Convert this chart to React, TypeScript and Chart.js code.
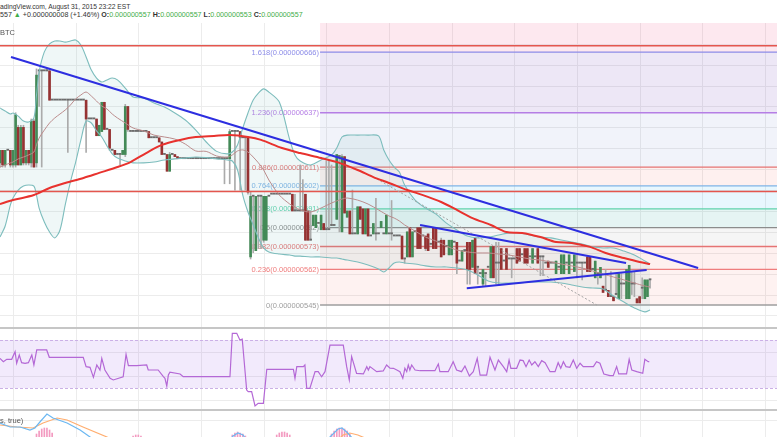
import React, { useEffect, useRef } from "react";
import { Chart, registerables } from "chart.js";

Chart.register(...registerables);

// ---------------- data (prices in units of 1e-9 BTC) ----------------
const firstBar = -5;

const opens = [
  613,619,612,619,619,612,612,630,612,630,
  613,619,613,633,613,657,657,657,657,657,
  643,643,643,643,643,643,643,643,643,643,
  643,643,643,643,634,634,634,634,626,628,
  642,629,629,619,619,617,617,617,617,640,
  628,628,628,628,628,628,628,628,625,625,
  625,625,623,617,617,609,617,617,616,615,
  615,615,615,615,615,615,615,615,615,615,
  615,615,615,615,615,615,615,615,615,628,
  628,628,628,625,625,625,568,597,571,597,
  597,576,576,597,598,598,598,598,598,598,
  598,598,598,590,590,590,590,598,590,576,
  583,582,584,581,584,581,581,583,583,586,
  616,580,616,587,590,579,579,579,592,591,
  579,591,578,579,579,579,582,579,579,579,
  579,578,578,578,578,567,568,582,568,580,
  582,582,578,578,579,574,582,582,575,576,
  576,573,569,569,575,575,566,566,571,575,
  575,563,577,563,560,555,560,563,558,573,
  565,565,572,566,572,567,567,567,572,572,
  569,572,572,568,565,568,572,568,568,565,
  566,565,565,560,563,560,560,565,560,565,
  561,565,565,565,565,568,568,562,558,560,
  558,554,552,552,549,549,550,548,555,555,
  548,548,555,555,548,549,553,548,549,557,
];
const highs = [
  619,619,619,619,619,619,637,631,631,631,
  619,619,634,634,658,657,657,657,658,658,
  643,643,643,643,643,643,643,643,643,643,
  643,643,643,643,634,634,634,634,631,642,
  642,629,629,619,619,617,617,619,641,640,
  628,628,628,628,628,628,628,628,625,625,
  625,625,623,617,617,618,617,617,616,615,
  615,615,615,615,615,615,615,615,615,615,
  615,615,615,615,615,615,615,615,629,628,
  628,628,628,625,625,625,599,597,597,597,
  597,597,597,597,598,598,598,598,598,598,
  598,598,598,598,590,612,605,598,590,590,
  588,588,584,588,584,614,614,612,583,617,
  616,617,616,590,590,600,579,592,592,591,
  591,591,578,584,596,579,585,579,588,579,
  595,578,578,578,578,567,580,582,580,580,
  582,582,578,578,579,574,582,582,575,577,
  576,573,576,576,575,575,566,571,571,575,
  575,576,577,563,560,562,560,563,573,573,
  575,575,572,566,572,567,567,567,572,572,
  569,572,572,568,572,568,572,568,568,565,
  566,565,565,566,563,569,569,565,569,565,
  569,569,565,565,565,568,568,562,566,560,
  563,554,562,552,561,549,560,560,560,555,
  562,564,561,561,548,549,558,557,557,557,
];
const lows = [
  611,611,611,619,611,611,611,612,612,612,
  612,612,611,611,611,640,611,657,657,643,
  643,643,643,643,643,643,618,643,643,643,
  643,643,643,618,634,634,634,626,626,628,
  629,629,619,619,617,617,612,617,616,628,
  628,628,628,628,628,628,628,625,625,625,
  625,623,617,617,609,609,617,616,615,615,
  615,615,615,615,615,615,615,615,615,615,
  615,615,615,615,615,615,603,615,603,628,
  600,628,600,625,600,598,567,570,571,572,
  572,575,576,597,598,598,598,598,598,598,
  598,598,590,590,590,590,590,576,576,576,
  583,582,584,581,581,581,581,583,583,586,
  580,580,589,587,579,579,579,579,586,579,
  579,578,578,579,576,579,582,579,579,579,
  576,578,578,578,567,565,568,568,568,580,
  572,572,578,571,571,574,572,572,575,568,
  569,573,569,569,575,560,566,566,571,555,
  555,563,560,555,560,554,554,563,558,558,
  555,555,562,566,562,567,558,567,565,566,
  569,565,565,568,565,568,565,559,559,565,
  563,565,565,560,563,560,560,565,560,565,
  561,558,565,557,565,561,561,562,558,555,
  558,551,552,549,549,547,550,548,548,555,
  548,548,550,549,546,546,548,548,549,553,
];
const closes = [
  619,612,619,619,612,619,636,612,630,613,
  619,613,633,611,655,657,657,657,657,643,
  643,643,643,643,643,643,643,643,643,643,
  643,643,643,634,634,634,634,626,631,642,
  629,629,620,619,617,617,617,619,640,629,
  628,628,628,628,628,628,628,625,625,625,
  625,623,617,617,609,617,617,616,615,615,
  615,615,615,615,615,615,615,615,615,615,
  615,615,615,615,615,615,615,615,628,628,
  628,628,625,625,625,599,597,597,597,597,
  597,597,597,597,598,598,598,598,598,598,
  598,598,590,590,590,590,590,576,576,576,
  588,588,584,588,581,581,581,583,583,617,
  616,616,589,590,579,579,579,592,586,579,
  591,578,578,584,579,579,585,579,588,579,
  579,578,578,578,567,567,580,568,580,580,
  572,572,578,572,571,574,572,572,575,568,
  569,573,576,576,575,565,566,571,571,562,
  562,576,560,563,560,562,560,563,573,558,
  565,565,562,566,562,567,567,567,565,566,
  569,565,565,568,572,568,565,568,568,565,
  563,565,565,566,563,569,569,565,569,565,
  569,565,565,565,565,561,561,562,566,560,
  563,551,552,549,549,547,550,560,555,555,
  562,564,555,555,546,546,553,557,557,557,
];

// Bollinger bands (sampled at bar indices)
const bbIdx = [-5,-3,-1,0,2,4,6,8,9,10,12,14,16,18,20,22,24,26,28,30,32,34,36,38,40,43,46,50,54,58,62,66,70,74,78,82,84,86,88,90,92,94,96,98,102,106,108,110,114,118,122,124,126,128,132,136,140,142,144,146,148,150,154,158,162,166,170,174,178,182,186,190,194,198,202,206,210,214,218,222,226,230,234,238,242,244];
const bbUpper = [639.3,637.8,636.4,636.9,635.4,633.0,632.6,634.5,645.5,656.5,666.1,669.9,671.3,671.3,670.8,671.3,671.8,669.4,663.7,657.4,653.6,651.7,652.7,653.6,652.7,648.8,644.5,644.1,641.7,639.7,636.9,633.5,628.7,623.0,618.5,617.3,618.2,621.6,629.7,636.9,643.1,646.4,648.4,646.9,642.1,624.0,616.8,613.9,612.0,614.4,616.8,620.1,625.4,626.3,626.3,626.3,625.9,619.2,614.4,611.0,608.6,602.4,595.2,591.4,588.5,584.2,580.9,578.0,577.1,577.5,578.5,579.5,579.5,578.5,577.5,577.1,576.1,575.1,574.2,572.8,572.3,572.3,570.8,568.9,566.1,564.6];
const bbMiddle = [611.0,612.0,613.0,613.4,614.9,615.8,616.8,618.2,621.6,624.9,628.7,632.1,634.5,636.4,638.3,640.7,643.6,645.5,646.9,645.0,642.6,640.2,638.8,636.4,634.5,632.1,629.7,628.3,626.3,625.4,624.4,622.0,618.7,618.5,616.3,615.8,616.8,618.7,619.2,618.2,615.8,613.0,609.6,604.8,597.6,593.3,591.9,590.5,589.5,591.4,593.8,594.8,595.7,596.2,595.2,593.3,590.5,589.0,587.6,586.6,585.2,583.3,580.4,577.5,575.6,573.2,571.3,570.4,569.9,569.9,569.4,568.9,568.0,567.0,566.5,565.6,564.6,563.7,562.7,561.3,559.8,558.4,557.0,555.5,554.1,553.6];
const bbLower = [577.5,582.8,592.9,596.2,600.0,601.9,602.4,601.9,597.6,591.4,584.7,579.9,577.1,580.9,592.9,603.9,613.4,624.0,633.0,632.1,628.3,625.4,621.1,617.3,615.3,613.9,613.0,613.0,613.4,614.4,614.9,615.3,615.8,615.5,614.9,614.4,613.9,609.6,597.6,589.5,583.3,577.1,572.3,570.4,569.4,568.9,568.4,568.4,568.0,568.0,567.5,567.5,567.0,566.5,565.6,564.1,562.2,560.8,562.7,565.1,565.6,565.1,564.6,563.7,563.2,563.2,562.7,561.7,559.4,556.5,555.5,555.5,555.5,556.0,556.0,556.0,555.5,554.6,553.6,553.1,552.7,549.3,546.4,543.6,541.7,542.6];

// moving average (red)
const emaIdx = [-5,0,8,14,20,27,33,40,45,51,57,64,70,77,83,90,95,103,110,118,125,132,138,144,151,157,164,170,176,183,189,195,202,208,214,221,227,234,240,244];
const emaVal = [593.3,595.2,597.6,601.0,603.4,605.8,608.2,611.0,613.4,617.7,621.6,624.0,625.4,625.9,626.3,625.4,624.0,620.1,617.7,615.3,613.0,609.6,606.2,603.4,600.0,597.6,594.3,590.5,586.6,583.3,579.9,579.5,577.5,575.1,574.7,572.8,569.9,567.5,565.6,564.6];

// drawn trend lines (bar index, price)
const trendMainIdx = [-0.77, 262.4];
const trendMainVal = [663.7, 562.7];
const triUpperIdx = [155.9, 234.8];
const triUpperVal = [583.3, 565.1];
const triLowerIdx = [173.8, 242.7];
const triLowerVal = [553.0, 561.7];
const dottedIdx = [136.7, 223.6];
const dottedVal = [607.2, 545.0];
const hLinePrices = [669, 599.3];

// Fibonacci retracement
const fibStartIdx = 117.6;
const fibRatios = [1.618, 1.236, 0.886, 0.764, 0.618, 0.5, 0.382, 0.236, 0];
const fibPrices = [666, 637, 611, 602, 591, 582, 573, 562, 545];

// RSI
const rsiIdx = [-5,-3.7,-2.4,-0.5,0.8,1.4,2.4,3.3,4.6,5.9,7.2,8,9.1,12.9,13.9,26.9,28,29.5,30.8,32.1,33.3,34,35.2,37.2,38.4,42.2,43.3,44.2,47.4,51.2,51.8,55.6,57.6,58.2,58.9,59.5,60.1,64,65.2,83.1,84,85.7,86.9,87.8,89.5,90.1,91.4,92.7,93.9,95.9,97.2,107.4,108,108.7,111.2,111.8,112.5,113.7,115.7,116.9,118.2,119.5,121.4,126.5,127.8,128.8,129.7,131.6,134.2,135.5,136.1,136.7,139.3,141.8,143.1,144.4,145.7,147,148.2,149.3,150.1,150.8,151.4,152,152.7,154,155.9,161.6,162.9,163.5,166.7,168.6,169.9,171.8,173.1,174.8,176.3,177.8,178.9,181.4,182.7,184.6,185.9,187.8,189.1,190,190.7,192.9,194.2,195.4,196.5,197.7,198.7,199.9,201.2,202.5,203.8,205.7,207.6,208.8,209.8,210.8,211.8,213.3,214.6,215.9,217.2,218.4,222.3,223.5,224.8,226.3,228.6,229.9,231.2,232,235,236,237,238.9,241.2,242,243.3,243.7];
const rsiVal = [54.7,51.9,53.9,53.9,60.3,50.6,57.5,51.1,50.6,51.1,57.5,49.2,61.7,61.7,55.6,55.6,47.8,47.2,38.9,49.2,45,54.7,45,38.1,36.7,39.4,58.1,48.6,48.6,49.2,45,45,39.4,38.1,31.7,40.8,43.1,41.7,39.4,39.4,75.6,75.6,70,70.8,28.3,26.9,26.9,15,17.2,17.2,45.6,45.6,38.1,47.8,47.8,49.2,29.7,29.7,43.6,43.6,39.4,43.6,65.8,65.8,47.8,36.7,56.1,42.2,41.7,47.8,45,47.8,43.6,44.2,49.2,46.5,46.4,45,43.6,38.1,46.4,43.6,49.2,45,49.2,45,44.4,44.4,50,43.6,43.6,51.9,45,43.6,48.3,40,43.6,54.7,40.8,40.8,55.6,45,53.3,47.8,43.6,53.3,46.4,46.4,53.3,52.8,47.8,53.3,49.2,51.9,47.8,52.8,51.1,43.6,43.6,51.1,46.4,51.9,47.8,47.2,53.3,46.4,50.6,47.8,47.8,51.9,50.6,41.7,40.3,40.3,47.8,41.7,41.7,53.9,45,43.6,42.2,53.9,51.9,51.9];
const rsiBands = [70, 30];

// MACD (relative units)
const macdIdx = [-5,-1.1,2.7,6.5,8.4,10.3,13,15.3,20.7,25.7,29.5,33.3,81.2,84.3,86.2,88.1,90.8,117.6,121.4,124.5,126,127.8,131,134.8,244];
const macdVal = [8,4,4,1,3,9,17,13,8,1,-6,-14,-14,-5,-2,-4,-14,-14,-6,2,3,-1,-10,-16,-16];
const signalIdx = [-5,1.5,7.7,11.5,16.9,20.7,26.8,36,39,85,86.9,88.9,92.7,123.3,126.4,129,132.1,134.8,140.6,244];
const signalVal = [6,4,3,8,13,11,4,-6,-11,-12,-7,-8,-14,-12,-4,-2,-4,-7,-14,-16];
const histIdx = [9,10,11,12,13,14,15,46,47,48,49,84,85,86,87,88,89,101,102,103,104,105,106,122,123,124,125,126,127,128,129];
const histTop = [-3,0,2,3,3,1,-2,-5,-4,-4,-5,-4,-2,-1,-2,-3,-5,-4,-2,-1,-1,-2,-4,-3,0,2,3,3,2,0,-3];

// grid / tick values
const gridIdx = [0,24,48,72,96,120,144,168,192,216,240,264,288];
const priceGrid = [540,550,560,570,580,590,600,610,620,630,640,650,660,670];
const rsiGrid = [20,40,60];
const macdGrid = [11];

// ---------------- styles ----------------
const FONT = '"Liberation Sans", Arial, Helvetica, sans-serif';
const X_MIN = -4.98;
const X_MAX = 292.62;
const GREEN = "#438a57";
const RED = "#963232";
const DOJI = "#6c6c6c";
const WICK = "#ababab";
const TXT_GREEN = "#3fae49";
const FIB_ZONES = [
  "rgba(233,30,99,0.10)",
  "rgba(103,58,183,0.12)",
  "rgba(63,81,181,0.07)",
  "rgba(244,67,54,0.08)",
  "rgba(3,169,244,0.09)",
  "rgba(0,150,136,0.10)",
  "rgba(120,120,120,0.07)",
  "rgba(244,67,54,0.08)",
  "rgba(244,67,54,0.07)",
];
const FIB_LINES = ["#8c8ce8", "#b57ee5", "#e57373", "#7fb3e6", "#5fd3ad", "#8c8c8c", "#e57373", "#ef7d7d", "#9e9e9e"];

const pts = (xs: number[], ys: number[]) => xs.map((x, k) => ({ x, y: ys[k] }));

function gridPlugin(yValues: number[]) {
  return {
    id: "tvGrid",
    beforeDraw(chart: any) {
      const { ctx, chartArea: a, scales } = chart;
      ctx.save();
      ctx.strokeStyle = "#ececec";
      ctx.lineWidth = 1;
      ctx.beginPath();
      gridIdx.forEach((v) => {
        const px = Math.round(scales.x.getPixelForValue(v)) + 0.5;
        ctx.moveTo(px, a.top);
        ctx.lineTo(px, a.bottom);
      });
      yValues.forEach((v) => {
        const py = Math.round(scales.y.getPixelForValue(v)) + 0.5;
        ctx.moveTo(a.left, py);
        ctx.lineTo(a.right, py);
      });
      ctx.stroke();
      ctx.restore();
    },
  };
}

const fibPlugin = {
  id: "fib",
  beforeDraw(chart: any) {
    const { ctx, chartArea: a, scales } = chart;
    const left = scales.x.getPixelForValue(fibStartIdx);
    const ys = fibPrices.map((p) => scales.y.getPixelForValue(p));
    ctx.save();
    ctx.fillStyle = FIB_ZONES[0];
    ctx.fillRect(left, a.top, a.right - left, ys[0] - a.top);
    for (let i = 0; i < ys.length - 1; i++) {
      ctx.fillStyle = FIB_ZONES[i + 1];
      ctx.fillRect(left, ys[i], a.right - left, ys[i + 1] - ys[i]);
    }
    ys.forEach((py, i) => {
      ctx.strokeStyle = FIB_LINES[i];
      ctx.lineWidth = 1.3;
      ctx.beginPath();
      ctx.moveTo(left, py);
      ctx.lineTo(a.right, py);
      ctx.stroke();
    });
    ctx.font = `7.5px ${FONT}`;
    ctx.textAlign = "right";
    ctx.textBaseline = "middle";
    fibRatios.forEach((r, i) => {
      ctx.fillStyle = FIB_LINES[i];
      ctx.fillText(`${r}(${(fibPrices[i] / 1e9).toFixed(9)})`, left - 1, ys[i] + 0.5);
    });
    ctx.restore();
  },
};

const rsiBandPlugin = {
  id: "rsiBand",
  beforeDraw(chart: any) {
    const { ctx, chartArea: a, scales } = chart;
    const top = scales.y.getPixelForValue(rsiBands[0]);
    const bot = scales.y.getPixelForValue(rsiBands[1]);
    ctx.save();
    ctx.fillStyle = "rgba(140,60,230,0.11)";
    ctx.fillRect(a.left, top, a.right - a.left, bot - top);
    ctx.strokeStyle = "#cbb0e6";
    ctx.lineWidth = 1;
    ctx.setLineDash([3, 2]);
    [top, bot].forEach((py) => {
      ctx.beginPath();
      ctx.moveTo(a.left, Math.round(py) + 0.5);
      ctx.lineTo(a.right, Math.round(py) + 0.5);
      ctx.stroke();
    });
    ctx.restore();
  },
};

function baseOptions(yMin: number, yMax: number): any {
  return {
    responsive: false,
    maintainAspectRatio: false,
    animation: false,
    events: [],
    layout: { padding: 0 },
    plugins: {
      legend: { display: false },
      tooltip: { enabled: false },
      filler: { drawTime: "beforeDatasetsDraw" },
    },
    scales: {
      x: { type: "linear", min: X_MIN, max: X_MAX, display: false, offset: false },
      y: { type: "linear", min: yMin, max: yMax, display: false },
    },
  };
}

export default function App() {
  const mainRef = useRef<HTMLCanvasElement>(null);
  const rsiRef = useRef<HTMLCanvasElement>(null);
  const macdRef = useRef<HTMLCanvasElement>(null);

  useEffect(() => {
    const charts: Chart[] = [];

    const bodyData = opens.map((o, k) => ({ x: firstBar + k, y: [Math.min(o, closes[k]), Math.max(o, closes[k])] }));
    const bodyColors = opens.map((o, k) => (closes[k] > o ? GREEN : closes[k] < o ? RED : DOJI));
    const wickData = highs
      .map((h, k) => ({ x: firstBar + k, y: [lows[k], h] }))
      .filter((d) => d.y[1] > d.y[0]);

    const line = (data: any[], color: string, width: number, order: number, extra: any = {}) => ({
      type: "line",
      data,
      borderColor: color,
      borderWidth: width,
      pointRadius: 0,
      tension: 0,
      fill: false,
      order,
      ...extra,
    });

    if (mainRef.current) {
      charts.push(
        new Chart(mainRef.current, {
          type: "bar",
          data: {
            datasets: [
              line(pts(bbIdx, bbUpper), "#7dbdbd", 1.1, 3, { fill: "+1", backgroundColor: "rgba(110,185,185,0.11)", tension: 0.3 }),
              line(pts(bbIdx, bbLower), "#7dbdbd", 1.1, 3, { tension: 0.3 }),
              line(pts(bbIdx, bbMiddle), "#bb8c8c", 1, 3, { tension: 0.3 }),
              {
                type: "bar",
                data: bodyData,
                backgroundColor: bodyColors,
                barThickness: 2,
                grouped: false,
                minBarLength: 1.2,
                borderWidth: 0,
                order: 5,
              },
              {
                type: "bar",
                data: wickData,
                backgroundColor: WICK,
                barThickness: 1,
                grouped: false,
                borderWidth: 0,
                order: 6,
              },
              line(pts(emaIdx, emaVal), "#e8322e", 2, 1, { tension: 0.3 }),
              line(pts(trendMainIdx, trendMainVal), "#2d2ee0", 2, 0),
              line(pts(triUpperIdx, triUpperVal), "#2d2ee0", 2, 0),
              line(pts(triLowerIdx, triLowerVal), "#2d2ee0", 2, 0),
              line(pts(dottedIdx, dottedVal), "#a2a2a2", 1, 2, { borderDash: [2, 2] }),
              ...hLinePrices.map((p) =>
                line([{ x: X_MIN, y: p }, { x: X_MAX, y: p }], "#e4564e", 1.5, 2)
              ),
            ] as any,
          },
          options: baseOptions(534.47, 679.94),
          plugins: [gridPlugin(priceGrid), fibPlugin],
        } as any)
      );
    }

    if (rsiRef.current) {
      charts.push(
        new Chart(rsiRef.current, {
          type: "line",
          data: {
            datasets: [line(pts(rsiIdx, rsiVal), "#b468d6", 1.2, 0)] as any,
          },
          options: baseOptions(12.5, 79.17),
          plugins: [gridPlugin(rsiGrid), rsiBandPlugin],
        } as any)
      );
    }

    if (macdRef.current) {
      charts.push(
        new Chart(macdRef.current, {
          type: "bar",
          data: {
            datasets: [
              {
                type: "bar",
                data: pts(histIdx, histTop),
                base: -30,
                backgroundColor: "#f39ac0",
                barThickness: 1,
                grouped: false,
                borderWidth: 0,
                order: 3,
              },
              line(pts(macdIdx, macdVal), "#6cb8f2", 1.2, 1),
              line(pts(signalIdx, signalVal), "#ffae70", 1.2, 2),
            ] as any,
          },
          options: baseOptions(-6, 20),
          plugins: [gridPlugin(macdGrid)],
        } as any)
      );
    }

    return () => charts.forEach((c) => c.destroy());
  }, []);

  const txt: React.CSSProperties = { position: "absolute", left: 0, fontFamily: FONT, fontSize: 7.5, lineHeight: "9px", whiteSpace: "nowrap", color: "#333" };
  const g: React.CSSProperties = { color: TXT_GREEN };
  const lbl: React.CSSProperties = { fontWeight: 600 };

  return (
    <div style={{ position: "absolute", left: 0, top: 0, width: 777, height: 437, overflow: "hidden", background: "#fff" }}>
      <div style={{ ...txt, top: 1.5, fontSize: 6.7 }}>adingView.com, August 31, 2015 23:22 EST</div>
      <div style={{ ...txt, top: 11, fontSize: 7.1 }}>
        557 <span style={g}>▲</span> +0.000000008 (+1.46%) <span style={lbl}>O:</span><span style={g}>0.000000557</span>{" "}
        <span style={lbl}>H:</span><span style={g}>0.000000557</span> <span style={lbl}>L:</span>
        <span style={g}>0.000000553</span> <span style={lbl}>C:</span><span style={g}>0.000000557</span>
      </div>
      <canvas ref={mainRef} width={777} height={304} style={{ position: "absolute", left: 0, top: 23, width: 777, height: 304 }} />
      <div style={{ ...txt, top: 28, color: "#555" }}>BTC</div>
      <div style={{ position: "absolute", left: 0, top: 327, width: 777, height: 2, background: "#c6c6c6" }} />
      <canvas ref={rsiRef} width={777} height={80} style={{ position: "absolute", left: 0, top: 329, width: 777, height: 80 }} />
      <div style={{ position: "absolute", left: 0, top: 409, width: 777, height: 2, background: "#c6c6c6" }} />
      <canvas ref={macdRef} width={777} height={26} style={{ position: "absolute", left: 0, top: 411, width: 777, height: 26 }} />
      <div style={{ ...txt, top: 415.5, color: "#555" }}>s, true)</div>
    </div>
  );
}
